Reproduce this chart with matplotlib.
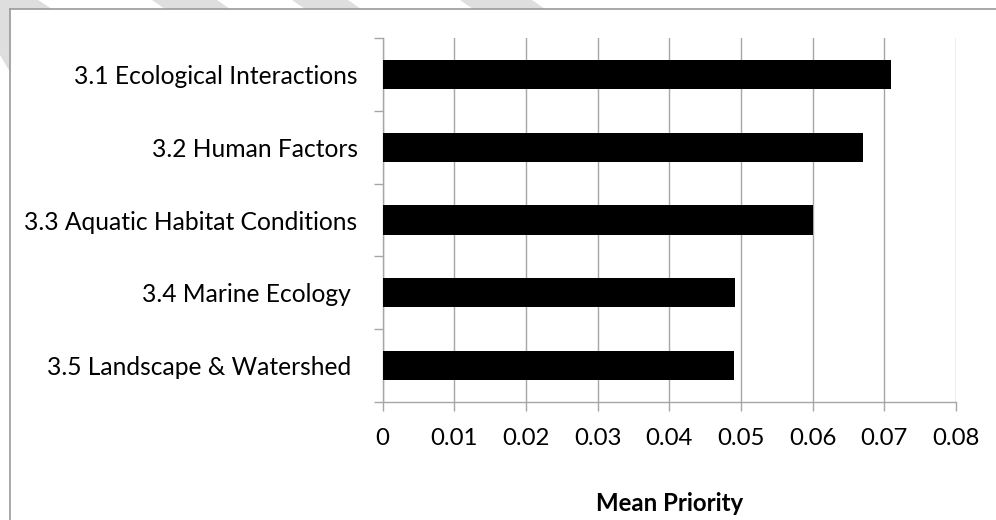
import matplotlib.pyplot as plt
from matplotlib.patches import Polygon, Rectangle
from matplotlib.lines import Line2D

# Research topic groups and their mean priority scores
categories = [
    "3.1 Ecological Interactions",
    "3.2 Human Factors",
    "3.3 Aquatic Habitat Conditions",
    "3.4 Marine Ecology ",
    "3.5 Landscape & Watershed ",
]
mean_priority = [0.071, 0.067, 0.060, 0.0492, 0.0490]

x_ticks = [0, 0.01, 0.02, 0.03, 0.04, 0.05, 0.06, 0.07, 0.08]
x_tick_labels = ["0", "0.01", "0.02", "0.03", "0.04", "0.05", "0.06", "0.07", "0.08"]

plt.rcParams['font.family'] = ['Lato', 'DejaVu Sans']

W, H = 996, 520
fig = plt.figure(figsize=(W / 100, H / 100), dpi=100)
fig.patch.set_facecolor('white')


def px(x, y):
    # pixel position (origin top-left) -> figure fraction
    return (x / W, 1 - y / H)


# light diagonal bands of the page behind the chart box
bands = [
    [(0, 0), (38, 0), (52, 9), (10, 9), (10, 72), (0, 55)],
    [(152, 0), (217, 0), (230, 9), (165, 9)],
    [(292, 0), (348, 0), (361, 9), (305, 9)],
    [(460, 0), (532, 0), (545, 9), (473, 9)],
]
for pts in bands:
    fig.add_artist(Polygon([px(*p) for p in pts], closed=True,
                           transform=fig.transFigure, facecolor='#dedede',
                           edgecolor='none', zorder=-3))

# chart box: white area with a grey border on the left and top
x0, y0 = px(10, 9)
fig.add_artist(Rectangle((x0, 0), 1 - x0, y0, transform=fig.transFigure,
                         facecolor='white', edgecolor='none', zorder=-2))
frame_col = '#9a9a9a'
fig.add_artist(Line2D([x0, x0], [0, y0], transform=fig.transFigure,
                      color=frame_col, lw=1.2, zorder=-1))
fig.add_artist(Line2D([x0, 1], [y0, y0], transform=fig.transFigure,
                      color=frame_col, lw=1.2, zorder=-1))

grid_col = '#a6a6a6'
ax = fig.add_axes([382.5 / W, 118 / H, 573.5 / W, 364 / H])

y_pos = [len(categories) - 1 - i for i in range(len(categories))]
ax.barh(y_pos, mean_priority, height=0.4, color='black', zorder=3)

ax.set_xlim(0, 0.08)
ax.set_ylim(-0.5, len(categories) - 0.5)

ax.set_xticks(x_ticks, x_tick_labels)
ax.set_yticks(y_pos, categories)
ax.set_yticks([i - 0.5 for i in range(len(categories) + 1)], minor=True)

ax.grid(axis='x', color=grid_col, lw=1.0)
ax.set_axisbelow(True)

for side in ('top', 'right'):
    ax.spines[side].set_visible(False)
for side in ('left', 'bottom'):
    ax.spines[side].set_color(grid_col)
    ax.spines[side].set_linewidth(1.0)

ax.tick_params(axis='y', which='major', length=0, pad=18, labelsize=17.7)
ax.tick_params(axis='y', which='minor', length=6.5, width=1.0, color=grid_col)
ax.tick_params(axis='x', which='major', length=6.5, width=1.0, color=grid_col,
               pad=12, labelsize=17.3)

ax.set_xlabel("Mean Priority", fontsize=17.3, fontweight='bold', labelpad=31)

fig.savefig('out.png', dpi=100)
